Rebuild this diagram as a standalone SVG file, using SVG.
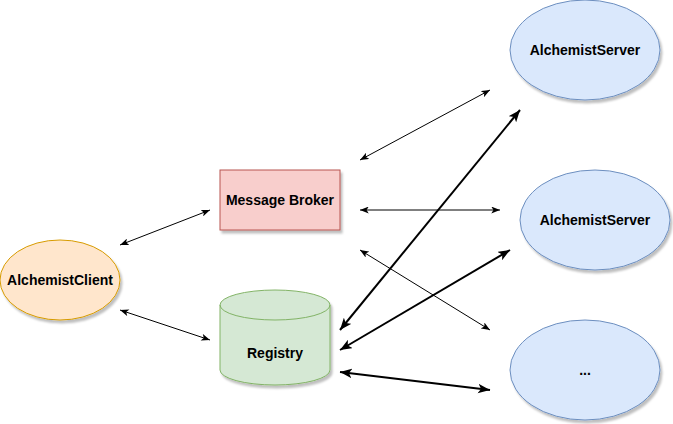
<svg xmlns="http://www.w3.org/2000/svg" width="673" height="424" viewBox="0 0 673 424">
<style>
text{font-family:"Liberation Sans",Arial,sans-serif;font-size:14px;font-weight:bold;fill:#000;text-anchor:middle;dominant-baseline:central}
.thin{stroke:#000;stroke-width:1;fill:none;marker-start:url(#a1);marker-end:url(#a1)}
.thick{stroke:#000;stroke-width:2;fill:none;marker-start:url(#a2);marker-end:url(#a2)}
.srv{fill:#dae8fc;stroke:#6c8ebf;stroke-width:1}
</style>
<defs>
<filter id="sh" x="-10%" y="-10%" width="130%" height="130%">
<feDropShadow dx="2" dy="3" stdDeviation="1.2" flood-color="#000" flood-opacity="0.25"/>
</filter>
<marker id="a1" viewBox="0 0 10 8" refX="10" refY="4" markerWidth="9" markerHeight="7" markerUnits="userSpaceOnUse" orient="auto-start-reverse">
<path d="M0,0 L10,4 L0,8 L2.5,4 Z" fill="#000"/>
</marker>
<marker id="a2" viewBox="0 0 10 8" refX="10" refY="4" markerWidth="12" markerHeight="10" markerUnits="userSpaceOnUse" orient="auto-start-reverse">
<path d="M0,0 L10,4 L0,8 L2.5,4 Z" fill="#000"/>
</marker>
</defs>
<g id="connectors">
<line class="thin" x1="120" y1="245" x2="210" y2="210"/>
<line class="thin" x1="120" y1="310" x2="210" y2="340"/>
<line class="thin" x1="360" y1="160" x2="490" y2="90"/>
<line class="thin" x1="360" y1="210" x2="500" y2="210"/>
<line class="thin" x1="360" y1="250" x2="490" y2="330"/>
<line class="thick" x1="340" y1="330" x2="520" y2="110"/>
<line class="thick" x1="340" y1="350" x2="510" y2="250"/>
<line class="thick" x1="340" y1="372" x2="490" y2="390"/>
</g>
<g id="client">
<ellipse cx="60" cy="280" rx="60" ry="40" fill="#ffe6cc" stroke="#d79b00" filter="url(#sh)"/>
<text x="60" y="280">AlchemistClient</text>
</g>
<g id="broker">
<rect x="220" y="170" width="120" height="60" fill="#f8cecc" stroke="#b85450" filter="url(#sh)"/>
<text x="280" y="200">Message Broker</text>
</g>
<g id="registry">
<g filter="url(#sh)">
<path d="M220,305 A55,15 0 0 1 330,305 L330,370 A55,15 0 0 1 220,370 Z" fill="#d5e8d4" stroke="#82b366"/>
</g>
<path d="M220,305 A55,15 0 0 0 330,305" fill="none" stroke="#82b366"/>
<text x="275" y="353">Registry</text>
</g>
<g id="server1">
<ellipse class="srv" cx="585" cy="50" rx="75" ry="50" filter="url(#sh)"/>
<text x="585" y="50">AlchemistServer</text>
</g>
<g id="server2">
<ellipse class="srv" cx="595" cy="220" rx="75" ry="50" filter="url(#sh)"/>
<text x="595" y="220">AlchemistServer</text>
</g>
<g id="server3">
<ellipse class="srv" cx="585" cy="370" rx="75" ry="50" filter="url(#sh)"/>
<text x="585" y="370">...</text>
</g>
</svg>
